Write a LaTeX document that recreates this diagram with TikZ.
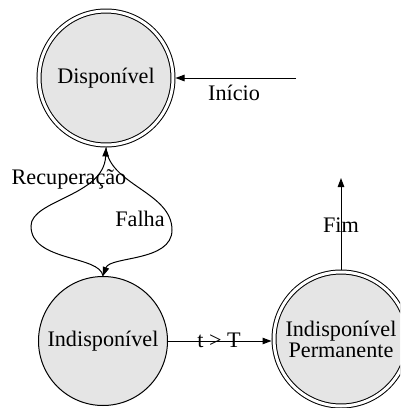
\documentclass[tikz,border=0pt]{standalone}
\usepackage{fontspec}
\setmainfont{Liberation Serif}
\usetikzlibrary{arrows.meta}
\definecolor{statefill}{RGB}{229,229,229}
\begin{document}
\begin{tikzpicture}[x=1pt,y=-1pt,
  every node/.style={font=\fontsize{22.2}{22}\selectfont},
  state/.style={circle,draw,fill=statefill,line width=1pt,inner sep=0pt},
  final/.style={state,double,double distance=3pt,outer sep=2.5pt},
  lbl/.style={inner sep=0pt,align=center},
  arr/.style={line width=1pt,-{Triangle[length=9pt,width=6.5pt]}}]
\useasboundingbox (0,0) rectangle (400,408);
\clip (0,0) rectangle (400,408);

% states
\node[final,minimum size=134pt] (disp) at (106,78) {Disponível};
\node[state,minimum size=129pt] (ind) at (103,341) {Indisponível};
\node[final,minimum size=134pt,align=center] (perm) at (341,339)
  {Indisponível\\[-1pt]Permanente};

% free ends of the start and end arrows
\coordinate (ini) at (296,78);
\coordinate (fim) at (341,178);

% transitions
\draw[arr] (ini) -- (disp.east);
\draw[arr] (perm.north) -- (fim);
\draw[arr] (ind.east) -- (ind.east -| perm.west);
\draw[arr] (disp.south) .. controls (109,185) and (172,192) .. (172,230)
  .. controls (172,262) and (110,256) .. (ind.north);
\draw[arr] (ind.north) .. controls (100,255) and (31,262) .. (31,226)
  .. controls (31,200) and (104,196) .. (disp.south);

% transition labels
\node[lbl] (linicio) at (234,93) {Início};
\node[lbl] (lfim) at (341,225) {Fim};
\node[lbl] (ltt) at (219,340) {t > T};
\node[lbl] (lrec) at (69,179) {Recuperação};
\node[lbl] (lfalha) at (140,219) {Falha};
\end{tikzpicture}
\end{document}
